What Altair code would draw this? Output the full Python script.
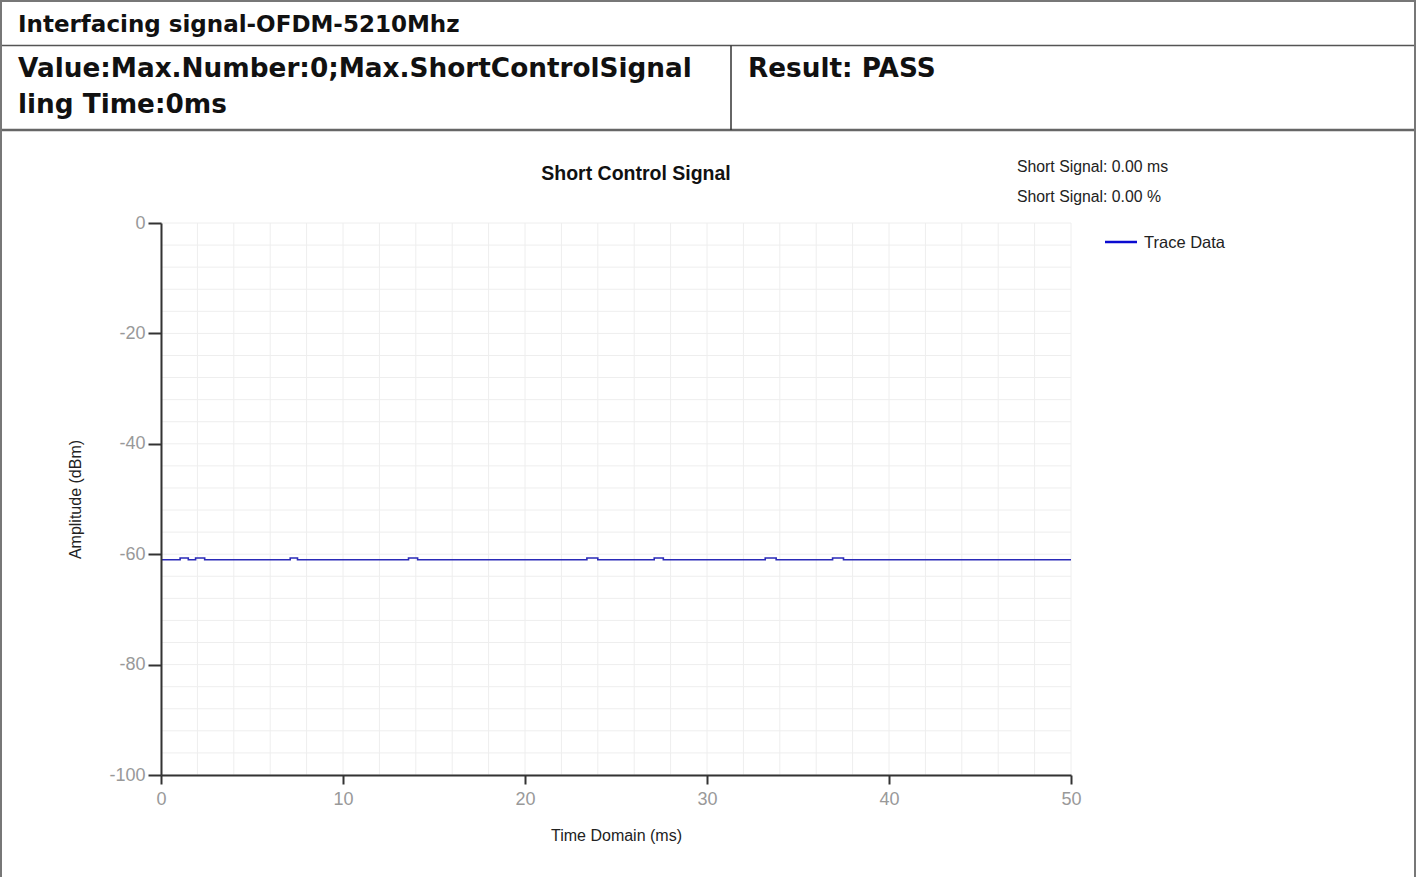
import altair as alt
import pandas as pd

# ---------------- data ----------------
trace_x = [0, 1.05, 1.5, 1.9, 2.4, 7.1, 7.5, 13.6, 14.1, 23.4, 24.0, 27.1, 27.6,
           33.2, 33.8, 36.9, 37.5, 50]
trace_y = [-61.0, -60.7, -61.0, -60.7, -61.0, -60.7, -61.0, -60.7, -61.0, -60.7,
           -61.0, -60.7, -61.0, -60.7, -61.0, -60.7, -61.0, -61.0]
x_ticks = [0, 10, 20, 30, 40, 50]
y_ticks = [-100, -80, -60, -40, -20, 0]
x_grid = list(range(0, 51, 2))
y_grid = list(range(-100, 1, 4))

header_title = "Interfacing signal-OFDM-5210Mhz"
value_line1 = "Value:Max.Number:0;Max.ShortControlSignal"
value_line2 = "ling Time:0ms"
result_text = "Result: PASS"
chart_title = "Short Control Signal"
stat_lines = ["Short Signal: 0.00 ms", "Short Signal: 0.00 %"]
legend_label = "Trace Data"
x_title = "Time Domain (ms)"
y_title = "Amplitude (dBm)"

# ---------------- chart ----------------
W, H = 910, 552
xs = alt.Scale(domain=[0, 50], nice=False, zero=False)
ys = alt.Scale(domain=[-100, 0], nice=False, zero=False)

ax_x = alt.Axis(
    values=x_ticks, grid=False, domainColor="#333333", domainWidth=2,
    tickColor="#333333", tickWidth=2, tickSize=9,
    labelColor="#999999", labelFont="Liberation Sans", labelFontSize=18,
    labelPadding=6, labelFlush=False, labelOverlap=False,
    labelExpr="toString(datum.value)",
    title=x_title, titleFont="Liberation Sans", titleFontSize=16,
    titleFontWeight="normal", titleColor="#222222",
    titleX=455, titleY=60, titleAlign="center", titleBaseline="middle",
    zindex=1)
ax_y = alt.Axis(
    values=y_ticks, grid=False, domainColor="#333333", domainWidth=2,
    tickColor="#333333", tickWidth=2, tickSize=13,
    labelColor="#999999", labelFont="Liberation Sans", labelFontSize=18,
    labelPadding=3, labelFlush=False, labelOverlap=False,
    labelExpr="toString(datum.value)",
    title=y_title, titleFont="Liberation Sans", titleFontSize=16,
    titleFontWeight="normal", titleColor="#222222", titleAngle=270,
    titleX=-86, titleY=276, titleAlign="center", titleBaseline="middle",
    zindex=1)

trace_df = pd.DataFrame({"t": trace_x, "a": trace_y})

grid_x = alt.Chart(pd.DataFrame({"t": x_grid})).mark_rule(
    color="#eeeeee", strokeWidth=1
).encode(x=alt.X("t:Q", scale=xs, axis=ax_x))

grid_y = alt.Chart(pd.DataFrame({"a": y_grid})).mark_rule(
    color="#eeeeee", strokeWidth=1
).encode(y=alt.Y("a:Q", scale=ys, axis=ax_y))

trace = alt.Chart(trace_df).mark_line(
    color="#2a2ab8", strokeWidth=1.6, interpolate="step-after"
).encode(
    x=alt.X("t:Q", scale=xs, axis=ax_x),
    y=alt.Y("a:Q", scale=ys, axis=ax_y),
)


def txt(text, x, y, size, weight="normal", color="#111111", font="Liberation Sans",
        align="left", baseline="alphabetic"):
    return alt.Chart(pd.DataFrame({"s": [text]})).mark_text(
        font=font, fontSize=size, fontWeight=weight, color=color,
        align=align, baseline=baseline
    ).encode(x=alt.value(x), y=alt.value(y), text="s:N")


def hline(x1, x2, y, color="#666666", width=2):
    return alt.Chart(pd.DataFrame({"k": [0]})).mark_rule(
        color=color, strokeWidth=width
    ).encode(x=alt.value(x1), x2=alt.value(x2), y=alt.value(y))


def vline(x, y1, y2, color="#666666", width=2):
    return alt.Chart(pd.DataFrame({"k": [0]})).mark_rule(
        color=color, strokeWidth=width
    ).encode(x=alt.value(x), y=alt.value(y1), y2=alt.value(y2))


# plot origin is at canvas (161, 223)
OX, OY = 161, 223
decor = [
    # table borders
    hline(-OX, 1416 - OX, 1 - OY, "#777777", 2),
    hline(-OX, 1416 - OX, 45.5 - OY, "#555555", 1.5),
    hline(-OX, 1416 - OX, 130 - OY, "#666666", 2.5),
    vline(1 - OX, -OY, 877 - OY, "#777777", 2),
    vline(1415 - OX, -OY, 877 - OY, "#777777", 2),
    vline(731 - OX, 45.5 - OY, 130 - OY, "#333333", 1.5),
    # header texts
    txt(header_title, 18 - OX, 32 - OY, 23, "bold", font="DejaVu Sans"),
    txt(value_line1, 18 - OX, 77 - OY, 26.3, "bold", font="DejaVu Sans"),
    txt(value_line2, 18 - OX, 113 - OY, 26.3, "bold", font="DejaVu Sans"),
    txt(result_text, 748 - OX, 77 - OY, 26.3, "bold", font="DejaVu Sans"),
    # chart title and stats
    txt(chart_title, 636 - OX, 180 - OY, 19.5, "bold", align="center"),
    txt(stat_lines[0], 1017 - OX, 172 - OY, 15.8, color="#222222"),
    txt(stat_lines[1], 1017 - OX, 202 - OY, 15.8, color="#222222"),
    # legend
    hline(1105 - OX, 1137 - OX, 242 - OY, "#0a0ad0", 2.5),
    txt(legend_label, 1144 - OX, 248 - OY, 16.5, color="#222222"),
]

chart = alt.layer(grid_x, grid_y, trace, *decor).properties(
    width=W, height=H,
    padding={"left": OX, "top": OY, "right": 1416 - OX - W, "bottom": 877 - OY - H},
    autosize=alt.AutoSizeParams(type="none"),
    background="white",
).configure_view(stroke=None)

chart.save("out.html", embed_options={"renderer": "svg", "actions": False})
